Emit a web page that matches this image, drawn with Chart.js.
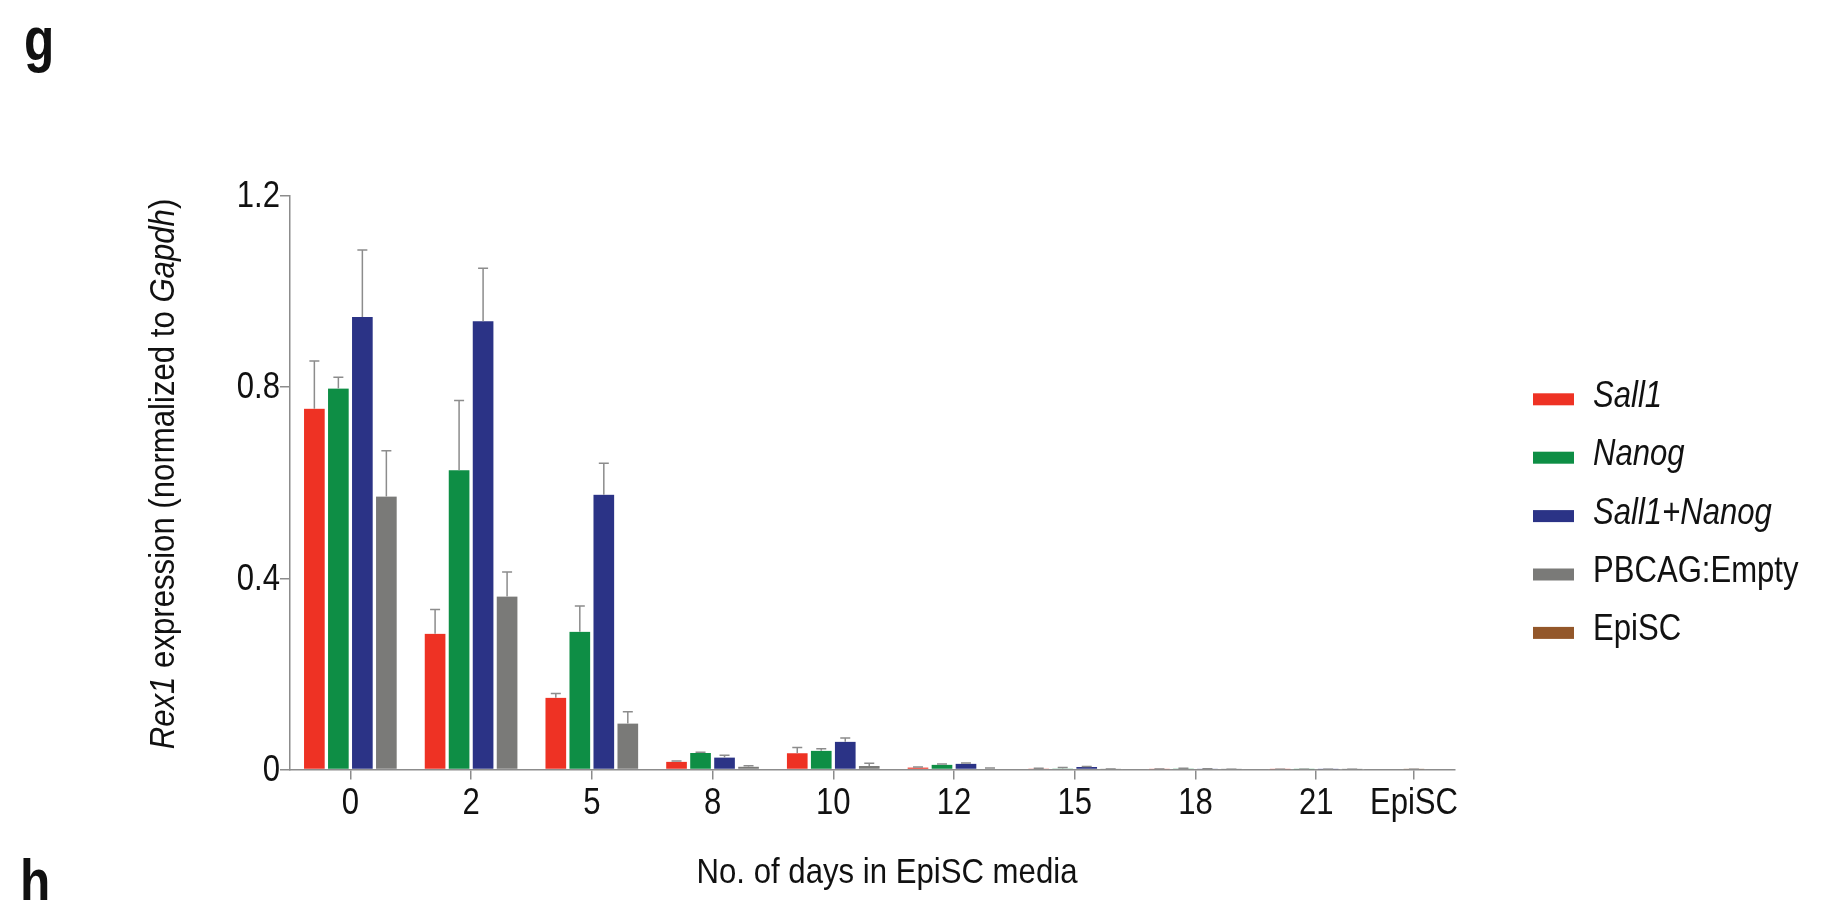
<!DOCTYPE html>
<html>
<head>
<meta charset="utf-8">
<title>Rex1 expression</title>
<script src="https://cdn.jsdelivr.net/npm/chart.js@4.4.1/dist/chart.umd.min.js"></script>
<style>
html, body { margin: 0; padding: 0; background: #fff; }
#wrap { position: relative; width: 1845px; height: 900px; }
canvas { display: block; }
</style>
</head>
<body>
<div id="wrap"><canvas id="chart" width="1845" height="900"></canvas></div>
<script>
// Categories: days in EpiSC media, plus the EpiSC control group
const dayLabels = ['0', '2', '5', '8', '10', '12', '15', '18', '21', 'EpiSC'];

// Mean Rex1 expression (normalized to Gapdh) and SEM per series
const sall1         = [0.755, 0.284, 0.150, 0.016, 0.034, 0.004, 0.002, 0.0005, 0.0003, null];
const sall1Err      = [0.100, 0.051, 0.009, 0.002, 0.012, 0.0012, 0.0008, 0.0003, 0.0002, null];
const nanog         = [0.797, 0.626, 0.288, 0.0345, 0.039, 0.010, 0.002, 0.002, 0.0003, null];
const nanogErr      = [0.024, 0.146, 0.054, 0.0015, 0.0045, 0.0015, 0.002, 0.0005, 0.0002, null];
const sall1Nanog    = [0.947, 0.938, 0.575, 0.025, 0.058, 0.012, 0.005, 0.001, 0.0003, null];
const sall1NanogErr = [0.140, 0.111, 0.066, 0.005, 0.008, 0.0016, 0.0015, 0.0005, 0.0002, null];
const pbcagEmpty    = [0.571, 0.362, 0.096, 0.006, 0.0073, 0.0017, 0.0005, 0.0003, 0.0002, null];
const pbcagEmptyErr = [0.096, 0.051, 0.025, 0.002, 0.006, 0.0013, 0.0003, 0.0002, 0.0001, null];
const episc         = [null, null, null, null, null, null, null, null, null, 0.0004];
const episcErr      = [null, null, null, null, null, null, null, null, null, 0.0002];

const seriesNames  = ['Sall1', 'Nanog', 'Sall1+Nanog', 'PBCAG:Empty', 'EpiSC'];
const seriesItalic = [true, true, true, false, false];
const seriesColors = ['#EE3224', '#0E8E45', '#2B3386', '#7A7A78', '#93572A'];
const seriesValues = [sall1, nanog, sall1Nanog, pbcagEmpty, episc];
const seriesErrors = [sall1Err, nanogErr, sall1NanogErr, pbcagEmptyErr, episcErr];

// Y axis ticks
const yTicks = [0, 0.4, 0.8, 1.2];
const yTickLabels = ['0', '0.4', '0.8', '1.2'];

// Axis titles
const xTitle = 'No. of days in EpiSC media';
const yTitleParts = [
  { t: 'Rex1', it: true },
  { t: ' expression (normalized to ', it: false },
  { t: 'Gapdh', it: true },
  { t: ')', it: false }
];

// Layout constants
const FONT = "'Liberation Sans', Arial, Helvetica, sans-serif";
const INK = '#111111';
const AXIS_GREY = '#8c8c8c';
const LAST_STEP = 0.81;   // the single-bar EpiSC group sits closer to day 21
const X_END_PAD = 0.34;
const dayPos = dayLabels.map((_, i) => (i < dayLabels.length - 1 ? i : i - 1 + LAST_STEP));

Chart.defaults.font.family = FONT;
Chart.defaults.color = INK;

// Narrow sans text: regular face squeezed horizontally
function narrowText(ctx, text, x, y, o) {
  ctx.save();
  ctx.translate(x, y);
  if (o.rotate) ctx.rotate(o.rotate);
  ctx.scale(o.squeeze || 0.84, 1);
  ctx.font = (o.italic ? 'italic ' : '') + (o.bold ? 'bold ' : '') + o.size + 'px ' + FONT;
  ctx.textAlign = o.align || 'left';
  ctx.textBaseline = o.baseline || 'alphabetic';
  ctx.fillStyle = o.color || INK;
  ctx.fillText(text, 0, 0);
  ctx.restore();
}
function narrowWidth(ctx, text, o) {
  ctx.save();
  ctx.font = (o.italic ? 'italic ' : '') + (o.bold ? 'bold ' : '') + o.size + 'px ' + FONT;
  const w = ctx.measureText(text).width * (o.squeeze || 0.84);
  ctx.restore();
  return w;
}

// Upward SEM whiskers drawn on top of each bar
const errorBars = {
  id: 'errorBars',
  afterDatasetsDraw(chart) {
    const ctx = chart.ctx;
    const yScale = chart.scales.y;
    ctx.save();
    ctx.strokeStyle = AXIS_GREY;
    ctx.lineWidth = 1.5;
    chart.data.datasets.forEach((ds, di) => {
      const meta = chart.getDatasetMeta(di);
      ds.errors.forEach((e, i) => {
        const v = ds.data[i].y;
        if (v == null || e == null) return;
        const bar = meta.data[i];
        const x = bar.x;
        const yTop = yScale.getPixelForValue(v + e);
        ctx.beginPath();
        ctx.moveTo(x, bar.y);
        ctx.lineTo(x, yTop);
        ctx.moveTo(x - 5, yTop);
        ctx.lineTo(x + 5, yTop);
        ctx.stroke();
      });
    });
    ctx.restore();
  }
};

// Tick labels, axis titles, legend and panel letters
const annotations = {
  id: 'annotations',
  afterDraw(chart) {
    const ctx = chart.ctx;
    const area = chart.chartArea;
    const xs = chart.scales.x;
    const ys = chart.scales.y;

    // y tick labels
    yTicks.forEach((v, i) => {
      narrowText(ctx, yTickLabels[i], area.left - 10, ys.getPixelForValue(v) + 1,
        { size: 37, align: 'right', baseline: 'middle' });
    });

    // x tick labels
    dayPos.forEach((v, i) => {
      narrowText(ctx, dayLabels[i], xs.getPixelForValue(v), area.bottom + 44,
        { size: 37, align: 'center' });
    });

    // x title
    narrowText(ctx, xTitle, 887, 883, { size: 35, align: 'center', squeeze: 0.89 });

    // rotated y title with italic gene names
    const tOpts = p => ({ size: 35, italic: p.it, squeeze: 0.89, rotate: -Math.PI / 2, baseline: 'middle' });
    let total = 0;
    yTitleParts.forEach(p => { p.w = narrowWidth(ctx, p.t, tOpts(p)); total += p.w; });
    const cx = 164, cy = 474;
    let off = -total / 2;
    yTitleParts.forEach(p => {
      narrowText(ctx, p.t, cx, cy - off, tOpts(p));
      off += p.w;
    });

    // legend
    const lx = area.right + 78;
    const ly = 393.3;
    const rowGap = 58.4;
    chart.data.datasets.forEach((ds, k) => {
      const top = ly + k * rowGap;
      ctx.fillStyle = ds.backgroundColor;
      ctx.fillRect(lx, top, 41, 12);
      narrowText(ctx, ds.label, lx + 60, top + 13.5, { size: 37, italic: seriesItalic[k] });
    });

    // panel letters
    narrowText(ctx, 'g', 24, 60, { size: 62, bold: true, squeeze: 0.8 });
    narrowText(ctx, 'h', 20, 902, { size: 62, bold: true, squeeze: 0.8 });
  }
};

const datasets = seriesNames.map((name, k) => ({
  label: name,
  data: dayPos.map((x, i) => ({ x: x, y: seriesValues[k][i] })),
  errors: seriesErrors[k],
  backgroundColor: seriesColors[k],
  borderColor: '#ffffff',
  borderWidth: { left: 2, right: 2, top: 0, bottom: 0 }
}));

new Chart(document.getElementById('chart'), {
  type: 'bar',
  data: { datasets: datasets },
  options: {
    responsive: false,
    animation: false,
    layout: { padding: { top: 196, right: 390, left: 0, bottom: 0 } },
    plugins: { legend: { display: false }, tooltip: { enabled: false } },
    datasets: { bar: { barThickness: 24, skipNull: true, grouped: true } },
    scales: {
      x: {
        type: 'linear',
        min: -0.5,
        max: dayPos[dayPos.length - 1] + X_END_PAD,
        offset: false,
        afterBuildTicks: s => { s.ticks = dayPos.map(v => ({ value: v })); },
        afterFit: s => { s.height = 130.5; },
        grid: { display: true, offset: false, drawOnChartArea: false, drawTicks: true, tickLength: 10, color: AXIS_GREY, lineWidth: 1.5 },
        border: { display: true, color: AXIS_GREY, width: 1.5 },
        ticks: { display: false, autoSkip: false, maxRotation: 0, minRotation: 0 }
      },
      y: {
        type: 'linear',
        min: 0,
        max: 1.2,
        afterBuildTicks: s => { s.ticks = yTicks.map(v => ({ value: v })); },
        afterFit: s => { s.width = 290; },
        grid: { display: true, drawOnChartArea: false, drawTicks: true, tickLength: 10, color: AXIS_GREY, lineWidth: 1.5 },
        border: { display: true, color: AXIS_GREY, width: 1.5 },
        ticks: { display: false }
      }
    }
  },
  plugins: [errorBars, annotations]
});
</script>
</body>
</html>
